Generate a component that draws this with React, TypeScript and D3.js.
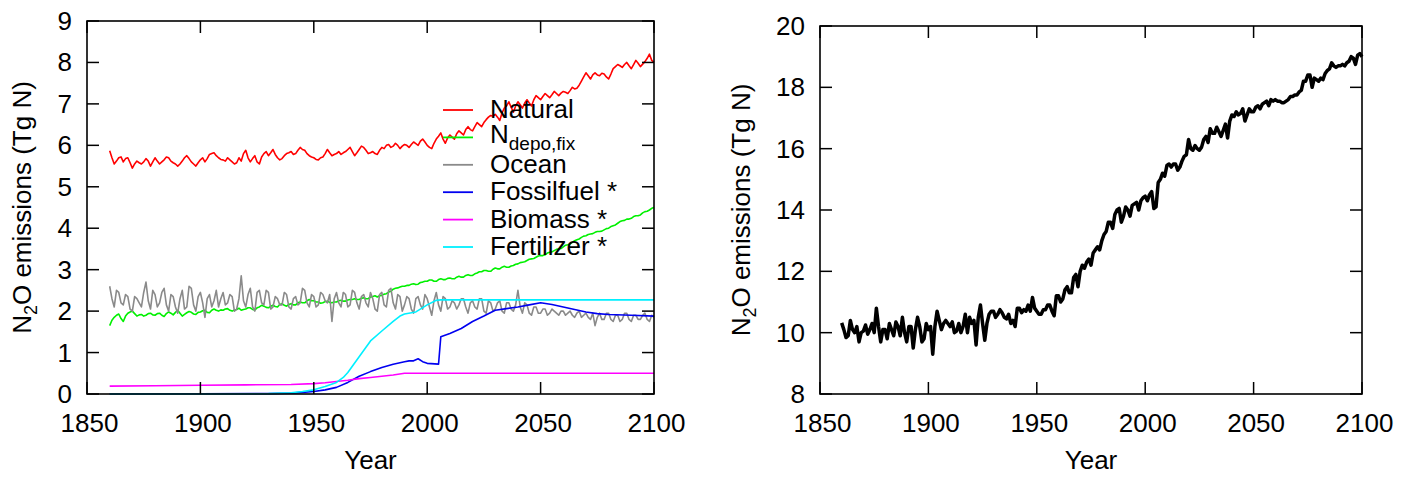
import React from "react";
import * as d3 from "d3";

// ---------- DATA ----------
// noisy series, annual values 1860..2100 (one row per decade)
const noisyYears: number[] = d3.range(1860, 2101, 1);

const natural: number[] = [
  5.87, 5.7, 5.55, 5.62, 5.7, 5.72, 5.6, 5.68, 5.7, 5.58,
  5.45, 5.55, 5.62, 5.58, 5.55, 5.6, 5.68, 5.62, 5.5, 5.6,
  5.7, 5.62, 5.55, 5.6, 5.65, 5.72, 5.7, 5.62, 5.58, 5.55,
  5.5, 5.55, 5.62, 5.7, 5.75, 5.68, 5.6, 5.55, 5.5, 5.58,
  5.65, 5.7, 5.6, 5.68, 5.78, 5.8, 5.82, 5.75, 5.7, 5.66,
  5.65, 5.62, 5.7, 5.65, 5.6, 5.55, 5.58, 5.7, 5.62, 5.8,
  5.88, 5.7, 5.6, 5.68, 5.75, 5.6, 5.55, 5.72, 5.8, 5.85,
  5.75, 5.82, 5.9, 5.78, 5.7, 5.65, 5.68, 5.75, 5.8, 5.82,
  5.85, 5.78, 5.8, 5.88, 5.95, 5.9, 5.88, 5.8, 5.75, 5.72,
  5.7, 5.66, 5.65, 5.7, 5.72, 5.8, 5.9, 5.82, 5.75, 5.78,
  5.8, 5.85, 5.78, 5.82, 5.85, 5.9, 5.95, 5.85, 5.75, 5.82,
  5.9, 5.98, 5.95, 5.88, 5.8, 5.82, 5.85, 5.8, 5.78, 5.88,
  5.95, 5.92, 6.0, 6.02, 5.95, 5.98, 6.05, 6.0, 5.92, 5.98,
  6.02, 6.0, 5.95, 6.02, 6.08, 6.04, 6.0, 6.1, 6.15, 6.08,
  6.0, 5.95, 5.92, 6.05, 6.15, 6.22, 6.3, 6.15, 6.05, 6.18,
  6.25, 6.2, 6.15, 6.28, 6.35, 6.3, 6.25, 6.38, 6.45, 6.38,
  6.35, 6.45, 6.55, 6.5, 6.45, 6.55, 6.62, 6.68, 6.72, 6.7,
  6.75, 6.68, 6.6, 6.78, 6.9, 6.95, 7.05, 6.92, 6.8, 6.95,
  7.05, 6.98, 6.9, 7.02, 7.1, 7.02, 6.95, 7.1, 7.2, 7.15,
  7.1, 7.18, 7.25, 7.2, 7.15, 7.22, 7.3, 7.25, 7.2, 7.26,
  7.3, 7.28, 7.25, 7.32, 7.4, 7.36, 7.38, 7.45, 7.55, 7.65,
  7.75, 7.68, 7.6, 7.7, 7.75, 7.7, 7.68, 7.74, 7.72, 7.65,
  7.6, 7.72, 7.85, 7.9, 7.95, 7.92, 7.88, 7.95, 8.0, 7.92,
  7.85, 7.95, 8.05, 7.98, 7.9, 7.96, 8.02, 8.1, 8.2, 8.05,
  8.0,
];

const ndepo: number[] = [
  1.65, 1.78, 1.85, 1.9, 1.93, 1.82, 1.75, 1.88, 1.95, 1.98,
  2.0, 1.94, 1.88, 1.91, 1.92, 1.88, 1.9, 1.94, 1.95, 1.91,
  1.9, 1.94, 1.95, 1.9, 1.87, 1.94, 1.98, 1.95, 1.91, 1.97,
  2.02, 1.95, 1.88, 1.92, 1.96, 1.99, 1.97, 1.93, 1.92, 1.97,
  1.98, 2.01, 2.02, 1.97, 1.96, 2.02, 2.05, 2.02, 2.0, 2.03,
  2.02, 2.05, 2.06, 2.02, 2.0, 2.03, 2.04, 2.07, 2.02, 2.04,
  2.05, 2.08, 2.08, 2.04, 2.03, 2.08, 2.1, 2.14, 2.12, 2.09,
  2.08, 2.12, 2.14, 2.11, 2.1, 2.16, 2.18, 2.14, 2.12, 2.16,
  2.18, 2.15, 2.15, 2.2, 2.22, 2.2, 2.2, 2.25, 2.28, 2.25,
  2.25, 2.22, 2.22, 2.19, 2.2, 2.23, 2.24, 2.21, 2.2, 2.22,
  2.22, 2.25, 2.26, 2.24, 2.24, 2.27, 2.28, 2.28, 2.3, 2.28,
  2.28, 2.31, 2.32, 2.3, 2.3, 2.34, 2.35, 2.37, 2.34, 2.37,
  2.38, 2.41, 2.42, 2.46, 2.48, 2.53, 2.55, 2.56, 2.58, 2.6,
  2.6, 2.62, 2.62, 2.65, 2.66, 2.64, 2.65, 2.69, 2.7, 2.72,
  2.72, 2.75, 2.75, 2.72, 2.72, 2.76, 2.78, 2.76, 2.76, 2.79,
  2.8, 2.78, 2.78, 2.82, 2.84, 2.82, 2.82, 2.86, 2.88, 2.86,
  2.86, 2.9, 2.92, 2.95, 2.95, 2.98, 2.98, 2.96, 2.96, 3.01,
  3.04, 3.02, 3.02, 3.06, 3.08, 3.06, 3.06, 3.09, 3.1, 3.13,
  3.14, 3.17, 3.18, 3.19, 3.22, 3.25, 3.26, 3.27, 3.3, 3.33,
  3.34, 3.34, 3.36, 3.4, 3.42, 3.43, 3.46, 3.49, 3.5, 3.51,
  3.55, 3.59, 3.6, 3.62, 3.66, 3.7, 3.72, 3.74, 3.78, 3.81,
  3.82, 3.85, 3.86, 3.87, 3.9, 3.92, 3.92, 3.93, 3.96, 3.99,
  4.0, 4.04, 4.06, 4.08, 4.12, 4.16, 4.18, 4.19, 4.22, 4.22,
  4.24, 4.28, 4.3, 4.3, 4.32, 4.37, 4.4, 4.41, 4.44, 4.48,
  4.5,
];

const ocean: number[] = [
  2.6, 2.3, 2.1, 2.5, 2.45, 2.2, 2.15, 2.4, 2.35, 2.05,
  2.0, 2.35, 2.3, 2.2, 2.1, 2.45, 2.7, 2.25, 2.05, 2.5,
  2.4, 2.1, 2.2, 2.45, 2.55, 2.15, 2.0, 2.4, 2.35, 2.1,
  1.95, 2.3, 2.5, 2.05, 2.1, 2.6, 2.55, 2.15, 2.0, 2.35,
  2.45, 2.2, 1.85, 2.3, 2.4, 2.1, 2.25, 2.5, 2.1, 2.3,
  2.45, 2.15, 2.2, 2.4, 2.35, 2.0, 2.05, 2.3, 2.85, 2.25,
  2.1, 2.4, 2.55, 2.1, 2.0, 2.45, 2.5, 2.2, 2.15, 2.5,
  2.45, 2.05, 2.1, 2.35, 2.3, 2.15, 2.15, 2.45, 2.4, 2.1,
  2.05, 2.3, 2.35, 2.15, 2.2, 2.55, 2.5, 2.2, 2.1, 2.4,
  2.35, 2.1, 2.15, 2.45, 2.4, 2.25, 2.2, 2.4, 1.75, 2.3,
  2.45, 2.2, 2.1, 2.45, 2.4, 2.1, 2.15, 2.5, 2.45, 2.2,
  2.05, 2.35, 2.4, 2.2, 2.1, 2.45, 2.3, 2.05, 2.0, 2.4,
  2.45, 2.15, 2.1, 2.5, 2.55, 2.2, 2.05, 2.4, 2.35, 2.0,
  2.15, 2.35, 2.3, 2.05, 1.95, 2.3, 2.35, 2.15, 2.05, 2.4,
  2.3, 2.1, 1.9, 2.25, 2.45, 2.15, 2.0, 2.35, 2.3, 2.05,
  2.1, 2.25, 2.2, 2.05, 2.15, 2.3, 2.3, 2.1, 1.95, 2.2,
  2.25, 2.1, 2.05, 2.3, 2.3, 2.0, 1.95, 2.25, 2.2, 2.0,
  2.05, 2.2, 2.25, 2.0, 1.95, 2.2, 2.2, 2.05, 2.0, 2.15,
  2.5, 2.1, 1.95, 2.2, 2.15, 1.95, 1.9, 2.1, 2.1, 1.95,
  1.95, 2.05, 2.05, 1.9, 1.95, 2.05, 2.0, 1.95, 1.9, 2.0,
  2.0, 1.9, 1.95, 2.0, 1.9, 1.85, 1.95, 2.0, 1.85, 1.9,
  1.95, 1.85, 1.8, 1.95, 1.65, 1.85, 1.95, 1.8, 1.8, 1.95,
  1.95, 1.8, 1.75, 1.9, 1.9, 1.75, 1.8, 1.95, 1.95, 1.8,
  1.75, 1.9, 1.9, 1.8, 1.8, 1.9, 1.95, 1.8, 1.75, 1.9,
  1.85,
];

const total: number[] = [
  10.32, 10.1, 9.84, 9.9, 10.4, 10.1, 10.0, 10.2, 9.7, 10.0,
  10.05, 10.25, 9.95, 10.1, 10.3, 10.0, 10.8, 10.2, 9.7, 10.1,
  10.1, 9.8, 10.3, 10.1, 9.9, 10.35, 10.2, 9.9, 10.5, 10.0,
  9.7, 10.2, 10.2, 9.5, 10.1, 10.5, 10.2, 9.7, 9.8, 10.3,
  10.1, 10.2, 9.3, 10.2, 10.7, 10.4, 10.1, 10.3, 10.4, 10.3,
  10.2, 10.35, 10.0, 10.05, 10.3, 10.0, 10.2, 10.6, 10.0, 10.5,
  10.3, 10.4, 9.6, 10.5, 10.9, 10.3, 9.75, 10.3, 10.6, 10.7,
  10.7, 10.5, 10.6, 10.75, 10.65, 10.5, 10.45, 10.6, 10.3, 10.4,
  10.2, 10.8, 10.8, 10.65, 10.75, 10.7, 10.9, 10.7, 11.15, 10.8,
  10.7, 10.6, 10.6, 10.75, 10.75, 10.9, 10.9, 10.7, 10.55, 11.2,
  11.2, 11.0, 11.1, 11.4, 11.5, 11.3, 11.3, 11.8, 11.9, 11.5,
  12.0, 12.2, 12.1, 12.3, 12.4, 12.2, 12.6, 12.7, 12.8, 12.7,
  13.0, 13.2, 13.3, 13.6, 13.6, 13.4, 13.85, 14.0, 14.05, 13.6,
  13.8, 14.1, 14.0, 13.8, 14.15, 14.2, 14.25, 14.0, 14.3, 14.4,
  14.45, 14.3, 14.5, 14.6, 14.05, 14.1, 14.9, 15.0, 15.2, 15.1,
  15.45, 15.5, 15.4, 15.5, 15.5, 15.3, 15.4, 15.6, 15.75, 15.8,
  16.3, 16.0, 15.95, 16.1, 16.0, 15.95, 16.05, 16.3, 16.4, 16.2,
  16.65, 16.5, 16.5, 16.7, 16.55, 16.4, 16.6, 16.8, 16.35, 16.9,
  17.1, 17.05, 17.2, 17.1, 17.15, 17.3, 16.9, 17.1, 17.3, 17.2,
  17.2, 17.35, 17.4, 17.3, 17.45, 17.5, 17.55, 17.4, 17.6, 17.55,
  17.6, 17.55, 17.55, 17.5, 17.5, 17.55, 17.6, 17.7, 17.7, 17.75,
  17.75, 17.85, 17.9, 18.2, 18.2, 18.4, 18.4, 18.0, 18.3, 18.25,
  18.2, 18.3, 18.25, 18.45, 18.55, 18.6, 18.8, 18.7, 18.65, 18.7,
  18.7, 18.75, 18.7, 18.8, 18.85, 19.0, 18.95, 18.75, 19.05, 19.1,
  19.0,
];

// smooth series at key years
const fossilYears = [1860, 1900, 1930, 1940, 1945, 1950, 1955, 1960, 1965, 1970, 1975, 1980, 1985, 1990, 1992, 1994, 1996, 1998, 2000, 2005, 2006, 2010, 2015, 2020, 2025, 2030, 2035, 2040, 2045, 2050, 2055, 2060, 2065, 2070, 2075, 2080, 2090, 2100];
const fossil = [0, 0.005, 0.01, 0.02, 0.04, 0.06, 0.1, 0.16, 0.28, 0.43, 0.54, 0.64, 0.72, 0.78, 0.8, 0.8, 0.85, 0.78, 0.74, 0.72, 1.38, 1.46, 1.58, 1.75, 1.88, 2.02, 2.06, 2.1, 2.15, 2.2, 2.16, 2.1, 2.04, 1.98, 1.94, 1.92, 1.9, 1.88];

const fertYears = [1860, 1910, 1930, 1940, 1945, 1950, 1955, 1960, 1963, 1965, 1970, 1975, 1980, 1985, 1988, 1990, 1995, 2000, 2004, 2006, 2100];
const fertilizer = [0, 0, 0.01, 0.03, 0.06, 0.1, 0.18, 0.28, 0.4, 0.52, 0.9, 1.28, 1.52, 1.75, 1.88, 1.93, 1.98, 2.15, 2.26, 2.27, 2.27];

const bioYears = [1860, 1880, 1900, 1920, 1940, 1950, 1955, 1960, 1965, 1970, 1975, 1980, 1985, 1990, 2100];
const biomass = [0.19, 0.2, 0.21, 0.22, 0.23, 0.25, 0.27, 0.3, 0.33, 0.37, 0.4, 0.43, 0.46, 0.5, 0.5];

const xTicks = [1850, 1900, 1950, 2000, 2050, 2100];
const leftYTicks = [0, 1, 2, 3, 4, 5, 6, 7, 8, 9];
const rightYTicks = [8, 10, 12, 14, 16, 18, 20];

const FONT = "'Liberation Sans', Arial, Helvetica, sans-serif";

type Series = { name: string; sub?: string; color: string; years: number[]; values: number[] };

const leftSeries: Series[] = [
  { name: "Natural", color: "#ff0000", years: noisyYears, values: natural },
  { name: "N", sub: "depo,fix", color: "#00f000", years: noisyYears, values: ndepo },
  { name: "Ocean", color: "#8a8a8a", years: noisyYears, values: ocean },
  { name: "Fossilfuel *", color: "#0000f0", years: fossilYears, values: fossil },
  { name: "Biomass *", color: "#ff00ff", years: bioYears, values: biomass },
  { name: "Fertilizer *", color: "#00f0ff", years: fertYears, values: fertilizer },
];

function Frame({ x, y, yTicks, left, right, top, bottom }: any) {
  const tl = 12;
  return (
    <g fontFamily={FONT} fontSize={26} fill="#000">
      {xTicks.map((t) => (
        <g key={"x" + t}>
          <line x1={x(t)} x2={x(t)} y1={bottom} y2={bottom - tl} stroke="#000" strokeWidth={1.5} />
          <line x1={x(t)} x2={x(t)} y1={top} y2={top + tl} stroke="#000" strokeWidth={1.5} />
          <text x={x(t) + 2.5} y={bottom + 38} textAnchor="middle">{t}</text>
        </g>
      ))}
      {yTicks.map((t: number) => (
        <g key={"y" + t}>
          <line x1={left} x2={left + tl} y1={y(t)} y2={y(t)} stroke="#000" strokeWidth={1.5} />
          <line x1={right} x2={right - tl} y1={y(t)} y2={y(t)} stroke="#000" strokeWidth={1.5} />
          <text x={left - 15} y={y(t) + 9} textAnchor="end">{t}</text>
        </g>
      ))}
      <rect x={left} y={top} width={right - left} height={bottom - top} fill="none" stroke="#000" strokeWidth={1.6} />
    </g>
  );
}

function YLabel({ x, cy }: { x: number; cy: number }) {
  return (
    <text transform={`translate(${x},${cy}) rotate(-90)`} textAnchor="middle" fontFamily={FONT} fontSize={26} fill="#000">
      N<tspan fontSize={18} dy={6}>2</tspan><tspan dy={-6}>O emissions (Tg N)</tspan>
    </text>
  );
}

export default function App() {
  const L = { left: 87, right: 654, top: 21, bottom: 394 };
  const xL = d3.scaleLinear().domain([1850, 2100]).range([L.left, L.right]);
  const yL = d3.scaleLinear().domain([0, 9]).range([L.bottom, L.top]);
  const R = { left: 820, right: 1362, top: 26, bottom: 394 };
  const xR = d3.scaleLinear().domain([1850, 2100]).range([R.left, R.right]);
  const yR = d3.scaleLinear().domain([8, 20]).range([R.bottom, R.top]);

  const mkLine = (xs: any, ys: any) =>
    d3.line<[number, number]>().x((d) => xs(d[0])).y((d) => ys(d[1]));

  const lineL = mkLine(xL, yL);
  const lineR = mkLine(xR, yR);

  const legendX = 443;
  const legendY0 = 110;
  const legendDy = 27.4;

  return (
    <svg width={1411} height={477} style={{ position: "absolute", left: 0, top: 0, background: "#fff" }}>
      <rect width={1411} height={477} fill="#fff" />
      {leftSeries.map((s) => (
        <path
          key={s.name + (s.sub || "")}
          d={lineL(s.years.map((yr, i) => [yr, s.values[i]] as [number, number])) || ""}
          fill="none"
          stroke={s.color}
          strokeWidth={1.6}
          strokeLinejoin="round"
        />
      ))}
      <Frame x={xL} y={yL} yTicks={leftYTicks} {...L} />
      <g fontFamily={FONT} fontSize={26} fill="#000">
        {leftSeries.map((s, i) => {
          const ly = legendY0 + i * legendDy;
          return (
            <g key={"lg" + i}>
              <line x1={legendX} x2={legendX + 30} y1={ly} y2={ly} stroke={s.color} strokeWidth={1.8} />
              {s.sub ? (
                <text x={490} y={ly + 6}>
                  {s.name}
                  <tspan fontSize={19} dy={7}>{s.sub}</tspan>
                </text>
              ) : (
                <text x={490} y={ly + 8}>{s.name}</text>
              )}
            </g>
          );
        })}
      </g>
      <YLabel x={31} cy={(L.top + L.bottom) / 2} />
      <text x={(L.left + L.right) / 2} y={469} textAnchor="middle" fontFamily={FONT} fontSize={26}>Year</text>

      <path
        d={lineR(noisyYears.map((yr, i) => [yr, total[i]] as [number, number])) || ""}
        fill="none"
        stroke="#000"
        strokeWidth={3.5}
        strokeLinejoin="round"
      />
      <Frame x={xR} y={yR} yTicks={rightYTicks} {...R} />
      <YLabel x={750} cy={(R.top + R.bottom) / 2} />
      <text x={(R.left + R.right) / 2} y={469} textAnchor="middle" fontFamily={FONT} fontSize={26}>Year</text>
    </svg>
  );
}
